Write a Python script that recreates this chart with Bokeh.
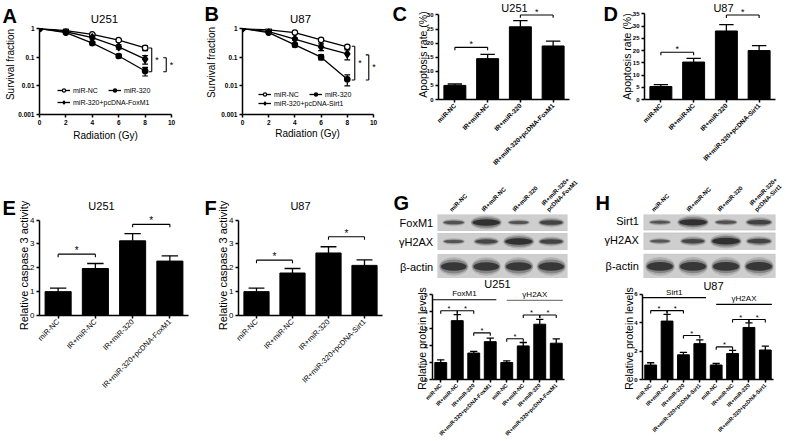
import math
from bokeh.plotting import figure
from bokeh.models import (Range1d, FixedTicker, Label, LabelSet, ColumnDataSource,
                          Legend, LegendItem)
from bokeh.layouts import row, column
from bokeh.embed import file_html
from bokeh.resources import INLINE
from bokeh.core.properties import value

FONT = "Liberation Sans"

# ---------------- data ----------------
doses = [0, 2, 4, 6, 8]
dose_ticks = [0, 2, 4, 6, 8, 10]
sf_ticks = [0.001, 0.01, 0.1, 1]
sf_labels = ["0.001", "0.01", "0.1", "1"]

A_series = ["miR-NC", "miR-320", "miR-320+pcDNA-FoxM1"]
A_nc = [1.0, 0.84, 0.62, 0.39, 0.21]
A_nc_err = [0.0, 0.03, 0.04, 0.035, 0.04]
A_320 = [1.0, 0.72, 0.31, 0.11, 0.033]
A_320_err = [0.0, 0.04, 0.04, 0.015, 0.011]
A_fox = [1.0, 0.77, 0.48, 0.23, 0.085]
A_fox_err = [0.0, 0.04, 0.05, 0.04, 0.028]
A_sig = [(8.5, 0.21, 0.031), (9.6, 0.095, 0.031)]

B_series = ["miR-NC", "miR-320", "miR-320+pcDNA-Sirt1"]
B_nc = [1.0, 0.9, 0.72, 0.4, 0.23]
B_nc_err = [0.0, 0.03, 0.03, 0.04, 0.03]
B_320 = [1.0, 0.72, 0.27, 0.1, 0.017]
B_320_err = [0.0, 0.04, 0.04, 0.02, 0.007]
B_sirt = [1.0, 0.78, 0.43, 0.23, 0.13]
B_sirt_err = [0.0, 0.03, 0.04, 0.06, 0.05]
B_sig = [(8.57, 0.24, 0.016), (9.64, 0.12, 0.016)]

groups_fox = ["miR-NC", "IR+miR-NC", "IR+miR-320", "IR+miR-320+pcDNA-FoxM1"]
groups_sirt = ["miR-NC", "IR+miR-NC", "IR+miR-320", "IR+miR-320+pcDNA-Sirt1"]

C_apoptosis = [5.0, 14.5, 25.8, 19.0]
C_apoptosis_err = [0.5, 1.5, 2.2, 1.7]
C_sig = [(0, 1, 18.5), (2, 3, 30.0)]
C_ticks = [0, 5, 10, 15, 20, 25, 30]

D_apoptosis = [5.3, 15.3, 28.0, 20.0]
D_apoptosis_err = [0.8, 1.5, 2.6, 2.0]
D_sig = [(0, 1, 19.3), (2, 3, 34.5)]
D_ticks = [0, 5, 10, 15, 20, 25, 30, 35]

E_caspase = [1.0, 1.97, 3.13, 2.28]
E_caspase_err = [0.15, 0.21, 0.3, 0.22]
E_sig = [(0, 1, 2.57), (2, 3, 3.82)]
F_caspase = [1.0, 1.78, 2.62, 2.1]
F_caspase_err = [0.15, 0.19, 0.26, 0.23]
F_sig = [(0, 1, 2.32), (2, 3, 3.3)]
caspase_ticks = [0, 1, 2, 3, 4]

G_foxm1_level = [1.0, 3.47, 1.56, 2.23]
G_foxm1_err = [0.16, 0.35, 0.10, 0.21]
G_h2ax_level = [1.0, 1.98, 3.26, 2.14]
G_h2ax_err = [0.10, 0.20, 0.29, 0.25]
G_sig = [(0, 1, 4.05), (1, 2, 4.05), (2, 3, 2.75), (4, 5, 2.4), (5, 6, 3.8), (6, 7, 3.8)]
G_groups = [("FoxM1", 0.0, 3.87, 4.7, 5.07, "black"), ("γH2AX", 4.5, 7.9, 4.66, 5.03, "#808080")]
G_ticks = [0, 1, 2, 3, 4, 5]

H_sirt1_level = [1.02, 4.12, 1.74, 2.53]
H_sirt1_err = [0.16, 0.48, 0.18, 0.27]
H_h2ax_level = [1.02, 1.83, 3.67, 2.08]
H_h2ax_err = [0.11, 0.23, 0.33, 0.27]
H_sig = [(0, 1, 4.86), (1, 2, 4.86), (2, 3, 3.1), (4, 5, 2.3), (5, 6, 4.23), (6, 7, 4.23)]
H_groups = [("Sirt1", 0.0, 3.88, 5.77, 6.17, "black"), ("γH2AX", 4.5, 7.9, 5.3, 5.72, "black")]
H_ticks = [0, 2, 4, 6]

G_lane_labels = ["miR-NC", "IR+miR-NC", "IR+miR-320", "IR+miR-320+", "pcDNA-FoxM1"]
H_lane_labels = ["miR-NC", "IR+miR-NC", "IR+miR-320", "IR+miR-320+", "pcDNA-Sirt1"]
G_blot_rows = ["FoxM1", "γH2AX", "β-actin"]
H_blot_rows = ["Sirt1", "γH2AX", "β-actin"]
G_band_target = [0.35, 1.0, 0.3, 0.6]
G_band_h2ax = [0.3, 0.55, 1.0, 0.6]
G_band_actin = [0.85, 0.85, 0.85, 0.85]
H_band_target = [0.3, 1.0, 0.35, 0.65]
H_band_h2ax = [0.25, 0.55, 1.0, 0.6]
H_band_actin = [0.85, 0.85, 0.85, 0.85]

# ---------------- text overlay (page coordinates) ----------------
OV = figure(width=786, height=441, x_range=Range1d(0, 786), y_range=Range1d(441, 0),
            min_border=0, x_axis_location=None, y_axis_location=None,
            toolbar_location=None, output_backend="svg", title=None,
            styles={"position": "absolute", "left": "0px", "top": "0px"})
OV.background_fill_alpha = 0
OV.border_fill_alpha = 0
OV.outline_line_color = None
OV.xgrid.visible = False
OV.ygrid.visible = False


def text(px, py, t, size, align="center", baseline="middle", bold=False, angle=0.0,
         color="black"):
    OV.add_layout(Label(x=px, y=py, text=t, text_font=FONT, text_font_size=f"{size}px",
                        text_align=align, text_baseline=baseline, angle=angle,
                        text_color=color,
                        text_font_style="bold" if bold else "normal"))


# ---------------- helpers ----------------
class Panel:
    def __init__(self, ox, oy, W, H, bl, br, bt, bb, x_range, y_range, ylog=False, **kw):
        self.ox, self.oy, self.W, self.H, self.bl, self.bb = ox, oy, W, H, bl, bb
        self.fh = H - bt - bb
        self.fw = W - bl - br
        self.xr = (x_range.start, x_range.end)
        self.yr = (y_range.start, y_range.end)
        if ylog:
            kw["y_axis_type"] = "log"
        p = figure(width=W, height=H, min_border_left=bl, min_border_right=br,
                   min_border_top=bt, min_border_bottom=bb, x_range=x_range,
                   y_range=y_range, toolbar_location=None, output_backend="svg",
                   title=None, **kw)
        p.outline_line_color = None
        p.xgrid.visible = False
        p.ygrid.visible = False
        p.border_fill_color = "white"
        p.background_fill_color = "white"
        self.p = p


def style_axes(p, size, bold=True, lw=1.5):
    for ax in p.axis:
        ax.axis_line_width = lw
        ax.axis_line_color = "black"
        ax.major_tick_line_width = lw
        ax.major_tick_line_color = "black"
        ax.major_tick_out = 3
        ax.major_tick_in = 0
        ax.minor_tick_out = 0
        ax.minor_tick_in = 0
        ax.major_label_text_font = FONT
        ax.major_label_text_color = "black"
        ax.major_label_text_font_size = f"{size}px"
        ax.major_label_text_font_style = "bold" if bold else "normal"
        ax.major_label_standoff = 2


def stars(p, xs, ys, size, baseline):
    src = ColumnDataSource(dict(x=xs, y=ys, t=["*"] * len(xs)))
    p.add_layout(LabelSet(x="x", y="y", text="t", source=src, text_font=value(FONT),
                          text_font_size=f"{size}px", text_align="center",
                          text_baseline=baseline, text_color="black"))


def survival(P, vals_list, errs_list, names, sig, leg_x, leg_y1, leg_y2):
    p = P.p
    style_axes(p, 6.5, bold=True)
    p.xaxis.ticker = FixedTicker(ticks=dose_ticks)
    p.xaxis.bounds = (0, 10)
    p.yaxis.ticker = FixedTicker(ticks=sf_ticks)
    p.yaxis.major_label_overrides = dict(zip(sf_ticks, sf_labels))
    styles = [("circle", "white", 5.5), ("circle", "black", 5.5), ("diamond", "black", 8)]
    rends = []
    for vals, errs, (mk, fill, sz) in zip(vals_list, errs_list, styles):
        lo = [v - e for v, e in zip(vals, errs)]
        hi = [v + e for v, e in zip(vals, errs)]
        src = ColumnDataSource(dict(x=doses, y=vals, lo=lo, hi=hi,
                                    l=[d - 0.22 for d in doses], r=[d + 0.22 for d in doses]))
        p.segment(x0="x", y0="lo", x1="x", y1="hi", source=src, line_color="black", line_width=1.2)
        p.segment(x0="l", y0="lo", x1="r", y1="lo", source=src, line_color="black", line_width=1.2)
        p.segment(x0="l", y0="hi", x1="r", y1="hi", source=src, line_color="black", line_width=1.2)
        ln = p.line(x="x", y="y", source=src, line_color="black", line_width=1.3)
        sc = p.scatter(x="x", y="y", source=src, marker=mk, size=sz, fill_color=fill,
                       line_color="black", line_width=1.2)
        rends.append([ln, sc])
    dx = 3.0 / 13.15
    x0, y0, x1, y1, sx, sy = [], [], [], [], [], []
    for x, yt, yb in sig:
        x0 += [x, x - dx, x - dx]
        y0 += [yt, yt, yb]
        x1 += [x, x, x]
        y1 += [yb, yt, yb]
        sx.append(x + 0.4)
        sy.append(math.sqrt(yt * yb))
    p.segment(x0=x0, y0=y0, x1=x1, y1=y1, line_color="black", line_width=1.1)
    stars(p, sx, sy, 9, "middle")

    def mk_leg(items, loc):
        lg = Legend(items=items, location=loc, orientation="horizontal")
        lg.label_text_font = FONT
        lg.label_text_font_size = "7px"
        lg.label_text_color = "black"
        lg.glyph_width = 13
        lg.glyph_height = 8
        lg.label_height = 8
        lg.label_width = 10
        lg.label_standoff = 3
        lg.spacing = 10
        lg.padding = 0
        lg.margin = 0
        lg.border_line_color = None
        lg.background_fill_alpha = 0
        p.add_layout(lg)

    mk_leg([LegendItem(label=names[0], renderers=rends[0]),
            LegendItem(label=names[1], renderers=rends[1])], (leg_x, leg_y1))
    mk_leg([LegendItem(label=names[2], renderers=rends[2])], (leg_x, leg_y2))


def bar_panel(P, labels, vals, errs, sig, yticks, ybound, bar_w, tick_size,
              rot_size, star_size, tick_bold=True, rot_bold=True):
    p = P.p
    style_axes(p, tick_size, bold=tick_bold)
    n = len(vals)
    xs = [i + 0.5 for i in range(n)]
    tops = [v + e for v, e in zip(vals, errs)]
    cap = 0.22
    src = ColumnDataSource(dict(x=xs, v=vals, t=tops, l=[x - cap for x in xs],
                                r=[x + cap for x in xs]))
    p.vbar(x="x", top="v", bottom=0, width=bar_w, source=src, fill_color="black",
           line_color="black", line_width=1)
    p.segment(x0="x", y0="v", x1="x", y1="t", source=src, line_color="black", line_width=1.3)
    p.segment(x0="l", y0="t", x1="r", y1="t", source=src, line_color="black", line_width=1.3)
    p.xaxis.ticker = FixedTicker(ticks=xs)
    p.xaxis.major_label_overrides = {x: lab for x, lab in zip(xs, labels)}
    p.xaxis.major_label_orientation = math.pi / 4
    p.xaxis.major_label_text_font_size = f"{rot_size}px"
    p.xaxis.major_label_text_font_style = "bold" if rot_bold else "normal"
    p.yaxis.ticker = FixedTicker(ticks=yticks)
    p.yaxis.bounds = (0, ybound)
    d = 3.0 / (P.fh / (P.yr[1] - P.yr[0]))
    x0, y0, x1, y1, sx, sy = [], [], [], [], [], []
    for i, j, y in sig:
        xi, xj = xs[i], xs[j]
        x0 += [xi, xi, xj]
        y0 += [y, y, y]
        x1 += [xj, xi, xj]
        y1 += [y, y - d, y - d]
        sx.append((xi + xj) / 2)
        sy.append(y)
    p.segment(x0=x0, y0=y0, x1=x1, y1=y1, line_color="black", line_width=1.1)
    stars(p, sx, sy, star_size, "alphabetic")
    return xs


def group_lines(P, groups, size):
    p = P.p
    for name, xa, xb, yl, yt, col in groups:
        p.segment(x0=[xa], y0=[yl], x1=[xb], y1=[yl], line_color=col, line_width=1.2)
        p.add_layout(Label(x=(xa + xb) / 2, y=yt, text=name, text_font=FONT,
                           text_font_size=f"{size}px", text_align="center",
                           text_baseline="middle", text_color="black"))


def blot_panel(P, rows, row_names, bands, label_right, lane_labels, lane_anchor):
    p = P.p
    lanes = [i + 0.5 for i in range(4)]
    frame_top_page = P.oy + (P.H - P.bb - P.fh)
    for (y0, y1), name, inten in zip(rows, row_names, bands):
        p.quad(left=[0], right=[4], top=[y0], bottom=[y1], fill_color="#cecece",
               line_color="#b8b8b8", line_width=0.6)
        cy = (y0 + y1) / 2.0
        h = y1 - y0
        for hs, ws, a in [(1.55, 1.05, 0.16), (1.15, 1.0, 0.32), (0.72, 0.92, 0.75)]:
            p.ellipse(x=lanes, y=[cy] * 4, width=[(0.55 + 0.36 * v) * ws for v in inten],
                      height=[h * (0.16 + 0.4 * v) * hs for v in inten],
                      fill_color="#161616", fill_alpha=[a * (0.55 + 0.45 * v) for v in inten],
                      line_color=None)
        text(label_right, frame_top_page + cy, name, 11, align="right")
    for (ax, ay), t in zip(lane_anchor, lane_labels):
        text(ax, ay, t, 6, align="left", baseline="alphabetic", angle=math.pi / 4, bold=True)


# ---------------- panels ----------------
A = Panel(0, 0, 190, 195, 39, 8, 28, 79, Range1d(0, 10.83), Range1d(0.001, 1), ylog=True)
survival(A, [A_nc, A_320, A_fox], [A_nc_err, A_320_err, A_fox_err], A_series, A_sig, 18, 20, 8)
text(2, 15, "A", 20, align="left", bold=True)
text(104, 18, "U251", 11.5)
text(10, 64, "Survival fraction", 10, angle=math.pi / 2)
text(105, 135, "Radiation (Gy)", 10)

B = Panel(190, 0, 200, 195, 52, 6, 27, 81, Range1d(0, 10.84), Range1d(0.001, 1), ylog=True)
survival(B, [B_nc, B_320, B_sirt], [B_nc_err, B_320_err, B_sirt_err], B_series, B_sig, 16, 16, 7)
text(204, 13, "B", 20, align="left", bold=True)
text(300, 18, "U87", 11.5)
text(211, 62, "Survival fraction", 10, angle=math.pi / 2)
text(307, 133, "Radiation (Gy)", 10)

C = Panel(390, 0, 195, 172, 48, 16, 6, 69, Range1d(0, 4), Range1d(0, 33))
bar_panel(C, groups_fox, C_apoptosis, C_apoptosis_err, C_sig, C_ticks, 30, 0.67, 6, 6.5, 9)
text(392, 13, "C", 20, align="left", bold=True)
text(514, 7, "U251", 11)
text(422, 54, "Apoptosis rate (%)", 10.5, angle=math.pi / 2)

D = Panel(585, 0, 201, 172, 59, 11, 5, 73, Range1d(0, 4), Range1d(0, 38))
bar_panel(D, groups_sirt, D_apoptosis, D_apoptosis_err, D_sig, D_ticks, 35, 0.67, 6, 6.5, 9)
text(603, 13, "D", 20, align="left", bold=True)
text(723, 7, "U87", 11)
text(626, 56, "Apoptosis rate (%)", 10.5, angle=math.pi / 2)

E = Panel(0, 195, 190, 246, 39, 2, 14, 126, Range1d(0, 4), Range1d(0, 4.4))
bar_panel(E, groups_fox, E_caspase, E_caspase_err, E_sig, caspase_ticks, 4, 0.7, 8, 7.5, 10,
          tick_bold=False, rot_bold=False)
text(2, 207, "E", 20, align="left", bold=True)
text(101, 205, "U251", 11)
text(23, 265, "Relative caspase 3 activity", 11, angle=math.pi / 2)

F = Panel(190, 195, 200, 246, 48, 8, 15, 126, Range1d(0, 4), Range1d(0, 4.4))
bar_panel(F, groups_sirt, F_caspase, F_caspase_err, F_sig, caspase_ticks, 4, 0.7, 8, 7.5, 10,
          tick_bold=False, rot_bold=False)
text(204, 207, "F", 20, align="left", bold=True)
text(300, 205, "U87", 11)
text(222, 265, "Relative caspase 3 activity", 11, angle=math.pi / 2)

Gb = Panel(390, 172, 195, 106, 47, 18, 42, 0, Range1d(0, 4), Range1d(64, 0),
           x_axis_location=None, y_axis_location=None)
blot_panel(Gb, [(0, 16), (19, 35), (40, 64)], G_blot_rows,
           [G_band_target, G_band_h2ax, G_band_actin], 432.7, G_lane_labels,
           [(450, 210), (482, 210), (513, 210), (542, 204), (547, 210)])
text(393, 202, "G", 20, align="left", bold=True)

Hb = Panel(585, 172, 201, 106, 58, 11, 40, 0, Range1d(0, 4), Range1d(66, 0),
           x_axis_location=None, y_axis_location=None)
blot_panel(Hb, [(0, 16), (19, 36), (41, 66)], H_blot_rows,
           [H_band_target, H_band_h2ax, H_band_actin], 638.3, H_lane_labels,
           [(652, 210), (687, 210), (718, 210), (750, 204), (755, 210)])
text(595, 202, "H", 20, align="left", bold=True)

Gc = Panel(390, 278, 195, 163, 42, 21, 5, 60, Range1d(0, 8), Range1d(0, 5.6))
bar_panel(Gc, groups_fox + groups_fox, G_foxm1_level + G_h2ax_level, G_foxm1_err + G_h2ax_err,
          G_sig, G_ticks, 5, 0.72, 6, 5.5, 7.5)
group_lines(Gc, G_groups, 8)
text(497, 283.5, "U251", 11)
text(421.7, 338, "Relative protein levels", 10.5, angle=math.pi / 2)

Hc = Panel(585, 278, 201, 163, 57, 13, 6, 59, Range1d(0, 8), Range1d(0, 6.7))
bar_panel(Hc, groups_sirt + groups_sirt, H_sirt1_level + H_h2ax_level, H_sirt1_err + H_h2ax_err,
          H_sig, H_ticks, 6, 0.72, 6, 5.5, 7.5)
group_lines(Hc, H_groups, 8)
text(713, 285, "U87", 11)
text(628, 338, "Relative protein levels", 10.5, angle=math.pi / 2)

left = column(row(A.p, B.p), row(E.p, F.p))
right = column(row(C.p, D.p), row(Gb.p, Hb.p), row(Gc.p, Hc.p))
root = row(left, right, OV)

open("out.html", "w").write(file_html(root, INLINE, title="figure"))
